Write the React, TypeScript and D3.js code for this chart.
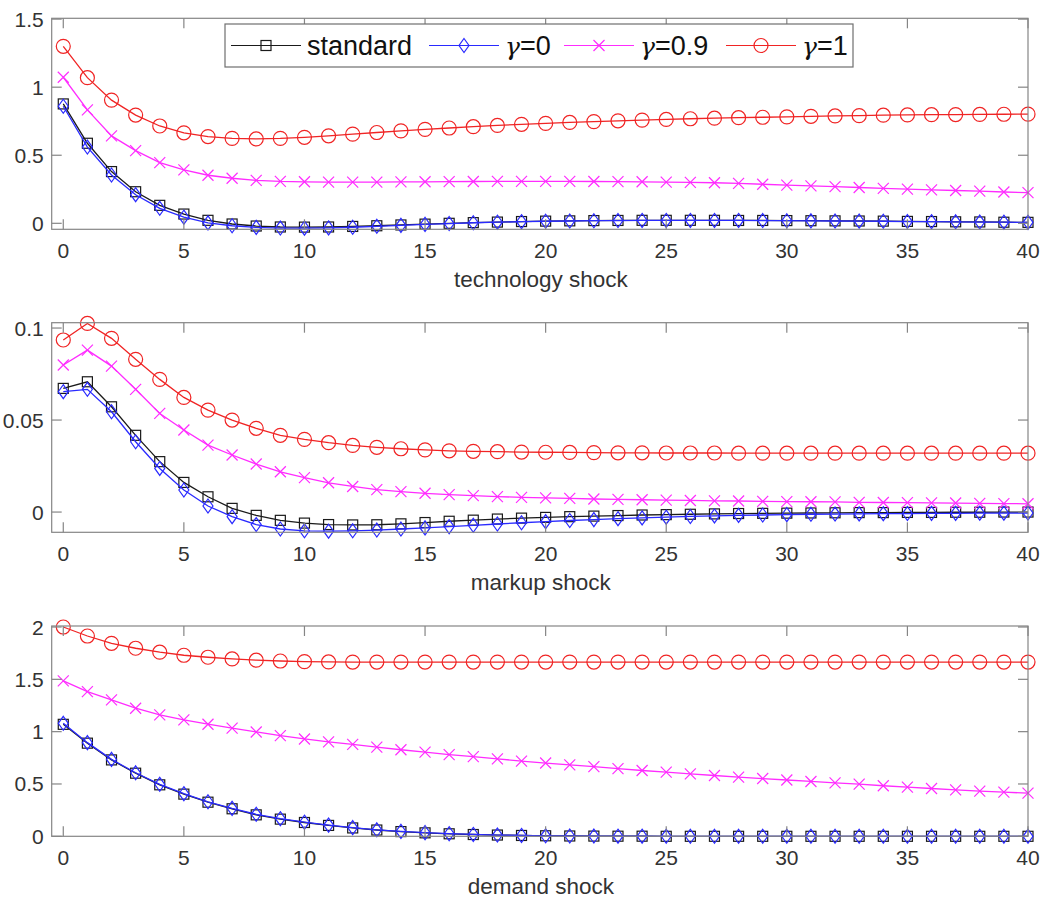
import React from "react";
import * as d3 from "d3";

const periods = d3.range(0, 41);
const seriesNames = ["standard", "γ=0", "γ=0.9", "γ=1"];

// technology shock
const techStandard = [0.877,0.588,0.38,0.232,0.132,0.068,0.022,-0.005,-0.02,-0.027,-0.028,-0.027,-0.023,-0.018,-0.012,-0.006,0.0,0.005,0.009,0.013,0.016,0.018,0.02,0.021,0.022,0.022,0.022,0.022,0.021,0.021,0.02,0.019,0.018,0.017,0.016,0.014,0.013,0.011,0.01,0.008,0.007];
const techG0 = [0.86,0.56,0.355,0.21,0.11,0.045,0.003,-0.018,-0.03,-0.035,-0.036,-0.034,-0.029,-0.022,-0.015,-0.008,-0.002,0.004,0.008,0.012,0.015,0.017,0.019,0.02,0.021,0.021,0.021,0.021,0.021,0.02,0.019,0.018,0.017,0.016,0.015,0.013,0.012,0.011,0.009,0.008,0.007];
const techG09 = [1.073,0.833,0.642,0.534,0.446,0.392,0.353,0.331,0.315,0.308,0.305,0.303,0.303,0.303,0.304,0.305,0.306,0.307,0.308,0.308,0.308,0.308,0.307,0.306,0.305,0.303,0.301,0.298,0.293,0.287,0.281,0.275,0.269,0.263,0.257,0.251,0.246,0.241,0.236,0.23,0.225];
const techG1 = [1.3,1.07,0.905,0.795,0.715,0.665,0.637,0.624,0.62,0.624,0.632,0.643,0.655,0.667,0.679,0.69,0.7,0.71,0.719,0.727,0.734,0.741,0.747,0.753,0.758,0.763,0.768,0.772,0.776,0.779,0.782,0.786,0.789,0.791,0.794,0.796,0.798,0.799,0.8,0.801,0.802];

// markup shock
const markupStandard = [0.0672,0.0708,0.0572,0.0417,0.0274,0.0161,0.0083,0.002,-0.0018,-0.0045,-0.006,-0.0068,-0.007,-0.0069,-0.0064,-0.0057,-0.005,-0.0044,-0.0038,-0.0033,-0.0029,-0.0025,-0.0022,-0.0019,-0.0016,-0.0014,-0.0012,-0.001,-0.0008,-0.0007,-0.0006,-0.0005,-0.0004,-0.0003,-0.0003,-0.0002,-0.0002,-0.0001,-0.0001,0,0];
const markupG0 = [0.0654,0.0667,0.0545,0.0382,0.0237,0.012,0.0033,-0.0025,-0.0068,-0.0092,-0.0102,-0.0104,-0.0102,-0.0098,-0.0092,-0.0086,-0.0079,-0.0072,-0.0065,-0.0058,-0.0052,-0.0046,-0.0041,-0.0036,-0.0032,-0.0028,-0.0024,-0.0021,-0.0018,-0.0016,-0.0014,-0.0012,-0.0011,-0.001,-0.0009,-0.0008,-0.0007,-0.0007,-0.0006,-0.0006,-0.0005];
const markupG09 = [0.0799,0.088,0.0793,0.0667,0.0536,0.0446,0.0364,0.031,0.0261,0.0219,0.0187,0.0159,0.0139,0.0122,0.0111,0.0102,0.0095,0.0089,0.0084,0.008,0.0077,0.0074,0.0071,0.0069,0.0067,0.0065,0.0063,0.0061,0.006,0.0058,0.0057,0.0056,0.0055,0.0053,0.0052,0.0051,0.005,0.0049,0.0047,0.0046,0.0045];
const markupG1 = [0.0935,0.1025,0.0944,0.083,0.0721,0.0623,0.0554,0.05,0.0455,0.0417,0.0395,0.0377,0.0362,0.0352,0.0344,0.0338,0.0333,0.033,0.0328,0.0326,0.0325,0.0324,0.0323,0.0322,0.0322,0.0321,0.0321,0.0321,0.032,0.032,0.032,0.032,0.032,0.032,0.032,0.032,0.032,0.032,0.032,0.032,0.032];

// demand shock
const demandStandard = [1.07,0.89,0.73,0.603,0.492,0.403,0.326,0.263,0.205,0.164,0.132,0.104,0.08,0.06,0.045,0.033,0.024,0.017,0.012,0.008,0.005,0.003,0.002,0.001,0.001,0,0,0,0,0,0,0,0,0,0,0,0,0,0,0,0];
const demandG0 = [1.08,0.895,0.735,0.607,0.497,0.407,0.33,0.267,0.21,0.168,0.135,0.107,0.083,0.062,0.047,0.035,0.025,0.018,0.012,0.008,0.005,0.003,0.002,0.001,0.001,0,0,0,0,0,0,0,0,0,0,0,0,0,0,0,0];
const demandG09 = [1.485,1.383,1.303,1.224,1.16,1.113,1.071,1.033,0.997,0.962,0.93,0.902,0.878,0.852,0.827,0.804,0.781,0.761,0.74,0.719,0.7,0.683,0.666,0.646,0.629,0.613,0.597,0.581,0.566,0.552,0.538,0.524,0.511,0.498,0.483,0.47,0.457,0.444,0.432,0.422,0.412];
const demandG1 = [2.0,1.914,1.844,1.797,1.759,1.73,1.711,1.695,1.683,1.675,1.669,1.666,1.665,1.665,1.665,1.665,1.665,1.665,1.665,1.665,1.665,1.665,1.665,1.665,1.665,1.665,1.665,1.665,1.665,1.665,1.665,1.665,1.665,1.665,1.665,1.665,1.665,1.665,1.665,1.665,1.665];

const xTicks = [0, 5, 10, 15, 20, 25, 30, 35, 40];
const techYTicks = [0, 0.5, 1, 1.5];
const markupYTicks = [0, 0.05, 0.1];
const demandYTicks = [0, 0.5, 1, 1.5, 2];

const panels = [
  { title: "technology shock", yDomain: [-0.044, 1.506], yTicks: techYTicks, top: 18.3, bottom: 229.3, data: [techStandard, techG0, techG09, techG1] },
  { title: "markup shock", yDomain: [-0.011, 0.1029], yTicks: markupYTicks, top: 322.7, bottom: 532.3, data: [markupStandard, markupG0, markupG09, markupG1] },
  { title: "demand shock", yDomain: [0, 2.0096], yTicks: demandYTicks, top: 626, bottom: 836.3, data: [demandStandard, demandG0, demandG09, demandG1] },
];

const COLORS = ["#1a1a1a", "#2a2aff", "#ff2cff", "#f02424"];
const MARKERS = ["square", "diamond", "x", "circle"];
const LEFT = 51.7;
const RIGHT = 1028;
const FONT = "'Liberation Sans', Arial, sans-serif";
const AXIS = "#858585";
const TEXT = "#333";
const TICK = 10;
const FS = 21;

function Marker({ type, x, y, color }: { type: string; x: number; y: number; color: string }) {
  const common = { fill: "none", stroke: color, strokeWidth: 1.2 };
  if (type === "square") return <rect x={x - 5} y={y - 5} width={10} height={10} {...common} />;
  if (type === "diamond") return <path d={`M${x},${y - 7}L${x + 5},${y}L${x},${y + 7}L${x - 5},${y}Z`} {...common} />;
  if (type === "x") return <path d={`M${x - 5.5},${y - 5.5}L${x + 5.5},${y + 5.5}M${x - 5.5},${y + 5.5}L${x + 5.5},${y - 5.5}`} {...common} />;
  return <circle cx={x} cy={y} r={7} {...common} />;
}

function Panel({ p, legend }: { p: any; legend: boolean }) {
  const x = d3.scaleLinear().domain([-0.48, 40]).range([LEFT, RIGHT]);
  const y = d3.scaleLinear().domain(p.yDomain).range([p.bottom, p.top]);
  const line = d3.line<number>().x((_, i) => x(periods[i])).y((d) => y(d));
  return (
    <g>
      {p.data.map((s: number[], si: number) => (
        <g key={si}>
          <path d={line(s) || ""} fill="none" stroke={COLORS[si]} strokeWidth={1.3} />
          {s.map((v, i) => (
            <Marker key={i} type={MARKERS[si]} x={x(periods[i])} y={y(v)} color={COLORS[si]} />
          ))}
        </g>
      ))}
      <rect x={LEFT} y={p.top} width={RIGHT - LEFT} height={p.bottom - p.top} fill="none" stroke={AXIS} strokeWidth={1.2} />
      {xTicks.map((t) => (
        <g key={"xt" + t}>
          <line x1={x(t)} x2={x(t)} y1={p.bottom} y2={p.bottom - TICK} stroke={AXIS} strokeWidth={1.2} />
          <line x1={x(t)} x2={x(t)} y1={p.top} y2={p.top + TICK} stroke={AXIS} strokeWidth={1.2} />
          <text x={x(t)} y={p.bottom + 28.5} textAnchor="middle" fontSize={FS} fill={TEXT} fontFamily={FONT}>{t}</text>
        </g>
      ))}
      {p.yTicks.map((t: number) => (
        <g key={"yt" + t}>
          <line x1={LEFT} x2={LEFT + TICK} y1={y(t)} y2={y(t)} stroke={AXIS} strokeWidth={1.2} />
          <line x1={RIGHT} x2={RIGHT - TICK} y1={y(t)} y2={y(t)} stroke={AXIS} strokeWidth={1.2} />
          <text x={LEFT - 8} y={y(t) + 7.5} textAnchor="end" fontSize={FS} fill={TEXT} fontFamily={FONT}>{String(t)}</text>
        </g>
      ))}
      <text x={(LEFT + RIGHT) / 2 + 1} y={p.bottom + 58} textAnchor="middle" fontSize={22.5} fill={TEXT} fontFamily={FONT}>{p.title}</text>
      {legend && <Legend />}
    </g>
  );
}

const LEGEND_BOX = { x: 225, y: 24, w: 628, h: 43 };
const LEGEND_ITEM_X = [231, 429, 564, 726];

function Legend() {
  const cy = LEGEND_BOX.y + LEGEND_BOX.h / 2;
  return (
    <g>
      <rect x={LEGEND_BOX.x} y={LEGEND_BOX.y} width={LEGEND_BOX.w} height={LEGEND_BOX.h} fill="#fff" stroke="#6f6f6f" strokeWidth={1.2} />
      {seriesNames.map((n, i) => {
        const lx = LEGEND_ITEM_X[i];
        const isGamma = n.startsWith("γ");
        return (
          <g key={n}>
            <line x1={lx} x2={lx + 70} y1={cy} y2={cy} stroke={COLORS[i]} strokeWidth={1.2} />
            <Marker type={MARKERS[i]} x={lx + 35} y={cy} color={COLORS[i]} />
            <text x={lx + 76} y={cy + 9} fontSize={27} fill="#111" fontFamily={FONT}>
              {isGamma ? (
                <>
                  <tspan fontStyle="italic" fontFamily="'DejaVu Serif', serif" fontSize={25}>γ</tspan>
                  <tspan>{n.slice(1)}</tspan>
                </>
              ) : n}
            </text>
          </g>
        );
      })}
    </g>
  );
}

export default function App() {
  return (
    <div style={{ position: "absolute", left: 0, top: 0 }}>
      <svg width={1045} height={903} style={{ display: "block", background: "#fff" }}>
        {panels.map((p, i) => (
          <Panel key={i} p={p} legend={i === 0} />
        ))}
      </svg>
    </div>
  );
}
